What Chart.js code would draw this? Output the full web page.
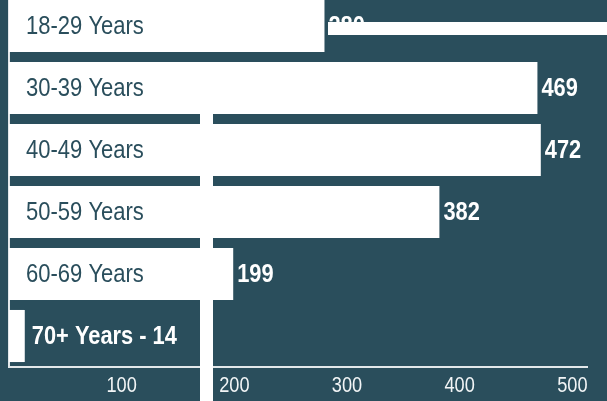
<!DOCTYPE html>
<html lang="en">
<head>
  <meta charset="UTF-8">
  <title>Age Groups</title>
  <script src="https://cdn.jsdelivr.net/npm/chart.js"></script>
  <style>
    body {
      margin: 0;
      background: #2a4e5c;
      width: 607px;
      height: 401px;
      overflow: hidden;
      position: relative;
    }
    .chart-wrap {
      position: absolute;
      left: 0;
      top: -5px;
      width: 607px;
      height: 406px;
    }
    /* white strips that sit over the picture */
    .strip {
      position: absolute;
      background: #fff;
    }
  </style>
</head>
<body>
  <div class="chart-wrap"><canvas id="ageChart"></canvas></div>
  <div class="strip" style="left:328px; top:22px; width:279px; height:13px;"></div>
  <div class="strip" style="left:200px; top:62px; width:13px; height:339px;"></div>

  <script>
    const ageGroups = ['18-29 Years', '30-39 Years', '40-49 Years', '50-59 Years', '60-69 Years', '70+ Years'];
    const counts = [280, 469, 472, 382, 199, 14];
    const xTicks = [100, 200, 300, 400, 500];

    const bg = '#2a4e5c';
    const face = '"Liberation Sans", Arial, sans-serif';
    // no narrow face installed, so squash the regular one
    const squeezeReg = 0.88;
    const squeezeBold = 0.84;

    function narrowText(ctx, text, x, y, font, color, sx, align) {
      ctx.save();
      ctx.font = font;
      ctx.fillStyle = color;
      ctx.textAlign = align || 'left';
      ctx.textBaseline = 'middle';
      ctx.translate(x, y);
      ctx.scale(sx, 1);
      ctx.fillText(text, 0, 0);
      ctx.restore();
    }

    // Category names inside the bars, values after them, x tick labels
    const barLabels = {
      id: 'barLabels',
      afterDatasetsDraw(chart) {
        const ctx = chart.ctx;
        const bars = chart.getDatasetMeta(0).data;
        bars.forEach((bar, i) => {
          const name = ageGroups[i];
          const val = counts[i];
          ctx.font = '25px ' + face;
          const nameW = ctx.measureText(name).width * squeezeReg;
          if (bar.x - bar.base > nameW + 30) {
            narrowText(ctx, name, bar.base + 17, bar.y + 1, '25px ' + face, bg, squeezeReg);
            narrowText(ctx, String(val), bar.x + 4, bar.y + 1, 'bold 26px ' + face, '#ffffff', squeezeBold);
          } else {
            narrowText(ctx, name + ' - ' + val, bar.x + 7, bar.y + 1, 'bold 26px ' + face, '#ffffff', squeezeBold);
          }
        });
        const xs = chart.scales.x;
        xTicks.forEach(v => {
          narrowText(ctx, String(v), xs.getPixelForValue(v), xs.top + 19, '22px ' + face, '#f2f5f6', squeezeReg * 0.94, 'center');
        });
      }
    };

    const ctx = document.getElementById('ageChart').getContext('2d');
    new Chart(ctx, {
      type: 'bar',
      data: {
        labels: ageGroups,
        datasets: [{
          data: counts,
          backgroundColor: '#ffffff',
          borderWidth: 0,
          barPercentage: 0.84,
          categoryPercentage: 1
        }]
      },
      options: {
        indexAxis: 'y',
        responsive: true,
        maintainAspectRatio: false,
        animation: false,
        layout: { padding: { left: 9, right: 20, top: 0, bottom: 0 } },
        plugins: {
          legend: { display: false },
          tooltip: { enabled: false }
        },
        scales: {
          x: {
            min: 0,
            max: 513,
            afterBuildTicks: axis => { axis.ticks = xTicks.map(v => ({ value: v })); },
            afterFit: axis => { axis.height = 34; },
            grid: { display: false, drawTicks: false },
            border: { display: true, color: '#e3e8ea', width: 2 },
            ticks: { display: false }
          },
          y: {
            grid: { display: false, drawTicks: false },
            border: { display: true, color: '#e3e8ea', width: 2 },
            ticks: { display: false }
          }
        }
      },
      plugins: [barLabels]
    });
  </script>
</body>
</html>
